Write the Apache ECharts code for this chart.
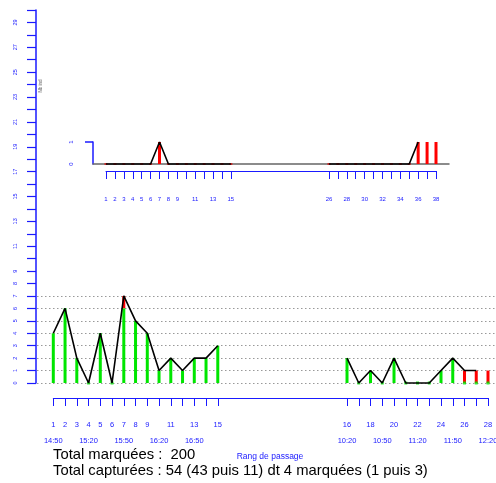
<!DOCTYPE html>
<html>
<head>
<meta charset="utf-8">
<script src="https://cdn.jsdelivr.net/npm/echarts@6/dist/echarts.min.js"></script>
<style>
  html, body { margin: 0; padding: 0; background: #fff; }
  #chart { width: 496px; height: 483px; }
</style>
</head>
<body>
<div id="chart"></div>
<script>
// ─── Données ────────────────────────────────────────────
// positions sur l'axe : 1re séance (rangs 1-15) puis 2e séance (placée à 26-38)
const ranks1 = [1, 2, 3, 4, 5, 6, 7, 8, 9, 10, 11, 12, 13, 14, 15];
const ranks2 = [26, 27, 28, 29, 30, 31, 32, 33, 34, 35, 36, 37, 38];

// captures non marquées (vert) et recaptures marquées (rouge)
const unmarked1 = [4, 6, 2, 0, 4, 0, 6, 5, 4, 1, 2, 1, 2, 2, 3];
const unmarked2 = [2, 0, 1, 0, 2, 0, 0, 0, 1, 2, 0, 0, 0];
const marked1 = [0, 0, 0, 0, 0, 0, 1, 0, 0, 0, 0, 0, 0, 0, 0];
const marked2 = [0, 0, 0, 0, 0, 0, 0, 0, 0, 0, 1, 1, 1];

// courbes noires : total (graphe du bas) et marquées (encart)
const totalLine1 = [4, 6, 2, 0, 4, 0, 7, 5, 4, 1, 2, 1, 2, 2, 3];
const totalLine2 = [2, 0, 1, 0, 2, 0, 0, 0, 1, 2, 1, 1, null];
const markedLine1 = [0, 0, 0, 0, 0, 0, 1, 0, 0, 0, 0, 0, 0, 0, 0];
const markedLine2 = [0, 0, 0, 0, 0, 0, 0, 0, 0, 0, 1, null, null];

// étiquettes d'axes
const rankLabelPos = [1, 2, 3, 4, 5, 6, 7, 8, 9, 11, 13, 15, 26, 28, 30, 32, 34, 36, 38];
const rankLabelText = ['1', '2', '3', '4', '5', '6', '7', '8', '9', '11', '13', '15', '16', '18', '20', '22', '24', '26', '28'];
const insetLabelText = ['1', '2', '3', '4', '5', '6', '7', '8', '9', '11', '13', '15', '26', '28', '30', '32', '34', '36', '38'];
const timePos = [1, 4, 7, 10, 13, 26, 29, 32, 35, 38];
const timeText = ['14:50', '15:20', '15:50', '16:20', '16:50', '10:20', '10:50', '11:20', '11:50', '12:20'];
const leftLabelVals = [0, 1, 2, 3, 4, 5, 6, 7, 8, 9, 11, 13, 15, 17, 19, 21, 23, 25, 27, 29];

const BLUE = '#1a1aff';
const FONT = 'Liberation Sans';
const allRanks = ranks1.concat(ranks2);
const allUnmarked = unmarked1.concat(unmarked2);
const allMarked = marked1.concat(marked2);

const pts = (xs, ys) => xs.map((x, i) => [x, ys[i]]);
const zeros = (xs, ys) => xs.filter((x, i) => ys[i] === 0).map(x => [x, 0]);
const lookup = (keys, vals) => v => { const i = keys.indexOf(v); return i < 0 ? '' : vals[i]; };

const hiddenAxis = (grid, min, max) => ({
  gridIndex: grid, type: 'value', min, max, show: false,
  axisLine: { onZero: false }, splitLine: { show: false }
});

// segment rouge posé sur la barre verte : [rang, bas, haut]
const redSegments = allRanks.map((p, i) => [p, allUnmarked[i], allUnmarked[i] + allMarked[i]]);

function renderSegment(params, api) {
  const lo = api.coord([api.value(0), api.value(1)]);
  const hi = api.coord([api.value(0), api.value(2)]);
  return {
    type: 'rect',
    shape: { x: lo[0] - 1.5, y: hi[1], width: 3, height: lo[1] - hi[1] },
    style: { fill: '#ff0000' }
  };
}

const chart = echarts.init(document.getElementById('chart'));

chart.setOption({
  animation: false,
  grid: [
    { left: 36, right: 0, top: 10, bottom: 100, outerBoundsMode: 'none' },     // 0 : axe gauche
    { left: 37, right: 0, top: 296, bottom: 100, outerBoundsMode: 'none' },    // 1 : pointillés
    { left: 53.3, right: 8, top: 10, bottom: 100, outerBoundsMode: 'none' },   // 2 : graphe du bas
    { left: 93, right: 47, top: 142, height: 22, outerBoundsMode: 'none' },    // 3 : cadre encart
    { left: 106, right: 60, top: 142, height: 22, outerBoundsMode: 'none' }    // 4 : données encart
  ],
  xAxis: [
    hiddenAxis(0, 0, 1),
    hiddenAxis(1, 0, 1),
    {
      gridIndex: 2, type: 'value', min: 1, max: 38, position: 'bottom', offset: 15,
      axisLine: { onZero: false, lineStyle: { color: BLUE, width: 1 } },
      axisTick: { customValues: allRanks, length: 8, lineStyle: { color: BLUE } },
      axisLabel: { customValues: rankLabelPos, formatter: lookup(rankLabelPos, rankLabelText),
        margin: 23, fontSize: 7.5, color: BLUE, fontFamily: FONT },
      splitLine: { show: false }
    },
    {
      gridIndex: 2, type: 'value', min: 1, max: 38, position: 'bottom', offset: 15,
      axisLine: { show: false, onZero: false }, axisTick: { show: false },
      axisLabel: { customValues: timePos, formatter: lookup(timePos, timeText),
        margin: 39, fontSize: 7.5, color: BLUE, fontFamily: FONT },
      splitLine: { show: false }
    },
    {
      gridIndex: 3, type: 'value', min: 0, max: 1, position: 'bottom',
      axisLine: { onZero: false, lineStyle: { color: '#666', width: 1.5 } },
      axisTick: { show: false }, axisLabel: { show: false }, splitLine: { show: false }
    },
    {
      gridIndex: 4, type: 'value', min: 1, max: 38, position: 'bottom', offset: 7,
      axisLine: { onZero: false, lineStyle: { color: BLUE, width: 1 } },
      axisTick: { customValues: allRanks, length: 8, lineStyle: { color: BLUE } },
      axisLabel: { customValues: rankLabelPos, formatter: lookup(rankLabelPos, insetLabelText),
        margin: 25, fontSize: 6, color: BLUE, fontFamily: FONT },
      splitLine: { show: false }
    }
  ],
  yAxis: [
    {
      gridIndex: 0, type: 'value', min: 0, max: 30, interval: 1, position: 'left',
      axisLine: { onZero: false, lineStyle: { color: BLUE, width: 1.5 } },
      axisTick: { length: 9, lineStyle: { color: BLUE, width: 1.2 } },
      axisLabel: { customValues: leftLabelVals, rotate: 90, margin: 18, fontSize: 5.5,
        color: BLUE, fontFamily: FONT },
      splitLine: { show: false }
    },
    {
      gridIndex: 1, type: 'value', min: 0, max: 7, interval: 1,
      axisLine: { show: false, onZero: false }, axisTick: { show: false }, axisLabel: { show: false },
      splitLine: { show: true, lineStyle: { color: '#999', type: [1.5, 2.5], width: 1 } }
    },
    hiddenAxis(2, 0, 30),
    {
      gridIndex: 3, type: 'value', min: 0, max: 1, position: 'left',
      axisLine: { onZero: false, lineStyle: { color: BLUE, width: 1.5 } },
      axisTick: { customValues: [1], length: 8, lineStyle: { color: BLUE, width: 1.5 } },
      axisLabel: { customValues: [0, 1], rotate: 90, margin: 19, fontSize: 6,
        color: BLUE, fontFamily: FONT },
      splitLine: { show: false }
    },
    hiddenAxis(4, 0, 1)
  ],
  series: [
    // graphe du bas
    { type: 'bar', xAxisIndex: 2, yAxisIndex: 2, barWidth: 3, clip: false,
      itemStyle: { color: '#00e600' }, data: pts(allRanks, allUnmarked) },
    { type: 'custom', xAxisIndex: 2, yAxisIndex: 2, renderItem: renderSegment,
      encode: { x: 0, y: [1, 2] }, data: redSegments },
    { type: 'scatter', xAxisIndex: 2, yAxisIndex: 2, symbol: 'rect', symbolSize: [3, 3], clip: false,
      itemStyle: { color: '#00e600' }, data: zeros(allRanks, allUnmarked) },
    { type: 'line', xAxisIndex: 2, yAxisIndex: 2, showSymbol: false, clip: false,
      lineStyle: { color: '#000', width: 1.6 }, data: pts(ranks1, totalLine1) },
    { type: 'line', xAxisIndex: 2, yAxisIndex: 2, showSymbol: false, clip: false,
      lineStyle: { color: '#000', width: 1.6 }, data: pts(ranks2, totalLine2) },
    // encart : recaptures marquées
    { type: 'bar', xAxisIndex: 5, yAxisIndex: 4, barWidth: 3, clip: false,
      itemStyle: { color: '#ff0000' }, data: pts(allRanks, allMarked) },
    { type: 'scatter', xAxisIndex: 5, yAxisIndex: 4, symbol: 'rect', symbolSize: [3, 2], clip: false,
      itemStyle: { color: '#d01010' }, data: zeros(allRanks, allMarked) },
    { type: 'line', xAxisIndex: 5, yAxisIndex: 4, showSymbol: false, clip: false,
      lineStyle: { color: '#000', width: 1.6 }, data: pts(ranks1, markedLine1) },
    { type: 'line', xAxisIndex: 5, yAxisIndex: 4, showSymbol: false, clip: false,
      lineStyle: { color: '#000', width: 1.6 }, data: pts(ranks2, markedLine2) }
  ],
  graphic: [
    { type: 'text', x: 41, y: 86, rotation: Math.PI / 2,
      style: { text: 'Nb ind', font: '4.5px ' + FONT, fill: '#666', align: 'center', verticalAlign: 'middle' } },
    { type: 'text', x: 270, y: 457,
      style: { text: 'Rang de passage', font: '8.5px ' + FONT, fill: BLUE, align: 'center', verticalAlign: 'middle' } },
    { type: 'text', x: 53, y: 455,
      style: { text: 'Total marquées :  200', font: '14.8px ' + FONT, fill: '#000', verticalAlign: 'middle' } },
    { type: 'text', x: 53, y: 471,
      style: { text: 'Total capturées : 54 (43 puis 11) dt 4 marquées (1 puis 3)', font: '14.8px ' + FONT,
        fill: '#000', verticalAlign: 'middle' } }
  ]
});
</script>
</body>
</html>
